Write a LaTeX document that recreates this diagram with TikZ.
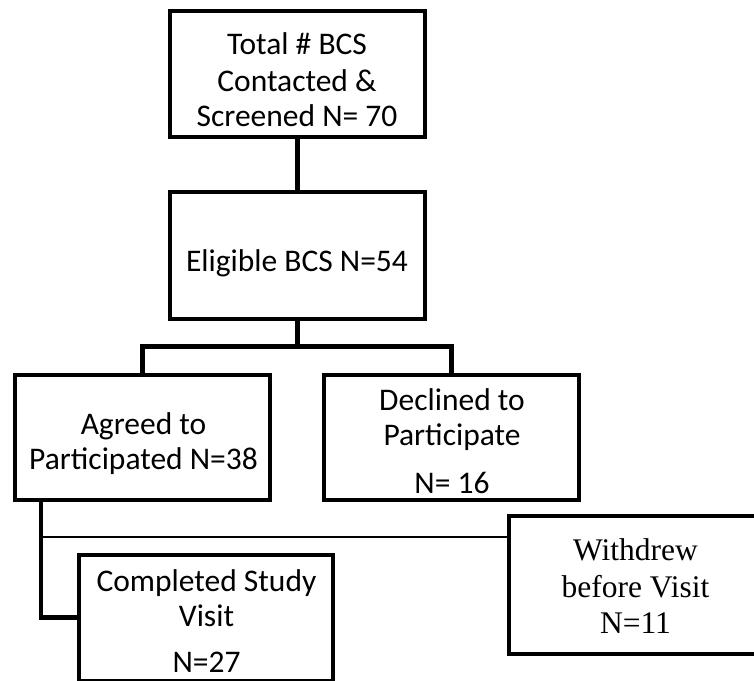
\documentclass[tikz,border=0pt]{standalone}
\usepackage{fontspec}
\setmainfont{Carlito}
\newfontfamily\tnr{Liberation Serif}
\begin{document}
\begin{tikzpicture}[x=1pt,y=-1pt,
  box/.style={draw=black, line width=4pt, fill=white, inner sep=0pt},
  conn/.style={draw=black, line width=4.5pt},
  thinline/.style={draw=black, line width=2.5pt},
  txt/.style={inner sep=0pt, anchor=base, font=\fontsize{31.5}{36}\selectfont},
  txtt/.style={inner sep=0pt, anchor=base, font=\tnr\fontsize{31.5}{36}\selectfont}]
\useasboundingbox (0,0) rectangle (754,680);
\clip (0,0) rectangle (754,680);
\fill[white] (0,0) rectangle (754,680);

% boxes
\node[box, minimum width=255.5pt, minimum height=126pt] (top) at (297.25,74) {};
\node[box, minimum width=255.5pt, minimum height=127pt] (elig) at (297.25,255.5) {};
\node[box, minimum width=255pt, minimum height=125pt] (agreed) at (142.5,437.5) {};
\node[box, minimum width=255pt, minimum height=125pt] (decl) at (451.5,437.5) {};
\node[box, minimum width=254.5pt, minimum height=126pt] (comp) at (206.2,617.5) {};
\node[box, minimum width=253.6pt, minimum height=138pt] (wd) at (635.5,585) {};

% texts
\node[txt] (t1) at (297,54) {Total \# BCS};
\node[txt] (t2) at (297,91) {Contacted \&};
\node[txt] (t3) at (297,126) {Screened N= 70};
\node[txt] (e1) at (297,271.7) {Eligible BCS N=54};
\node[txt] (a1) at (143.5,434.3) {Agreed to};
\node[txt] (a2) at (143.5,469.3) {Participated N=38};
\node[txt] (d1) at (452,410) {Declined to};
\node[txt] (d2) at (452,445) {Participate};
\node[txt] (d3) at (452,493.3) {N= 16};
\node[txt] (c1) at (206.5,591.7) {Completed Study};
\node[txt] (c2) at (206.5,626) {Visit};
\node[txt, text depth=0pt] (c3) at (206.5,672) {N=27};
\node[txtt] (w1) at (635.5,560) {Withdrew};
\node[txtt] (w2) at (635.5,597) {before Visit};
\node[txtt] (w3) at (635.5,633) {N=11};

% connectors
\coordinate (br) at (297.25,346.5);
\coordinate (jx) at (41,537);
\draw[conn] (top.south) -- (elig.north);
\draw[conn] (elig.south) -- (br);
\draw[conn] (agreed.north) |- (br) -| (decl.north);
\draw[conn] (agreed.south -| jx) |- (comp.west);
\draw[thinline] (jx) -- (jx -| wd.west);
\end{tikzpicture}
\end{document}
